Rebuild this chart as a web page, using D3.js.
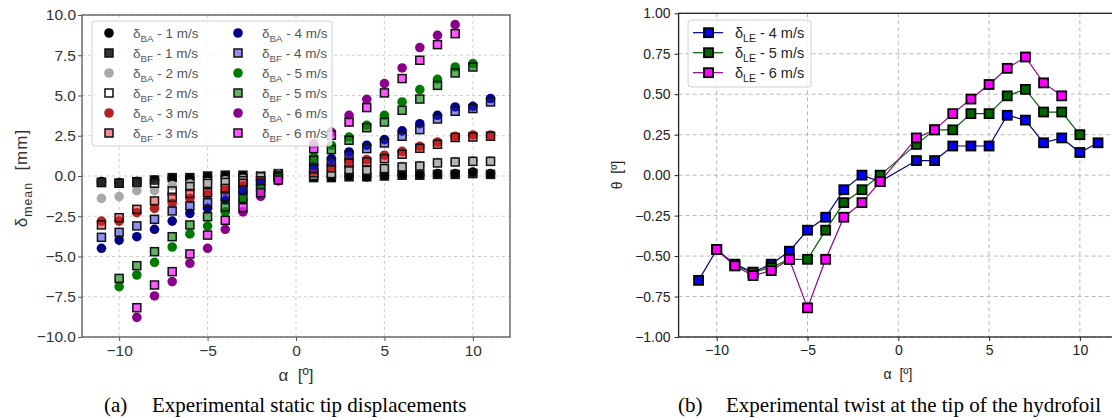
<!DOCTYPE html>
<html>
<head>
<meta charset="utf-8">
<script src="https://cdn.jsdelivr.net/npm/d3@7"></script>
<style>
  body { margin: 0; background: #fff; }
  svg { display: block; font-family: "Liberation Sans", Arial, sans-serif; }
  text { white-space: pre; }
</style>
</head>
<body>
<svg id="fig" width="1112" height="418"></svg>
<script>
// angle of attack [deg] used by both panels (no 0 deg run)
var alphaDeg = [-11, -10, -9, -8, -7, -6, -5, -4, -3, -2, -1, 1, 2, 3, 4, 5, 6, 7, 8, 9, 10, 11];

// (a) mean tip displacement [mm], BA = circles, BF = squares, null = no point
var ba1 = [-0.35, -0.41, -0.35, -0.25, -0.14, -0.14, -0.05, 0.0, 0.0, -0.05, 0.1, -0.06, -0.06, -0.02, -0.06, 0.04, 0.1, 0.1, 0.15, 0.15, 0.25, 0.15];
var bf1 = [-0.4, -0.45, -0.35, -0.25, -0.1, -0.1, 0.0, 0.05, 0.05, 0.0, 0.15, -0.1, -0.1, -0.05, -0.05, 0.0, 0.05, 0.05, 0.1, 0.1, 0.15, 0.1];
var ba2 = [-1.39, -1.28, -0.91, -0.91, -0.6, -0.5, -0.4, -0.3, -0.2, 0.0, 0.1, 0.05, 0.2, 0.45, 0.4, 0.5, 0.6, 0.65, 0.85, 0.9, 0.95, 0.95];
var bf2 = [-0.4, -0.45, -0.4, -0.45, -0.93, -0.66, -0.46, -0.4, -0.29, -0.05, 0.05, 0.04, 0.15, 0.4, 0.35, 0.46, 0.56, 0.62, 0.81, 0.87, 0.91, 0.91];
var ba3 = [-2.8, -2.8, -2.28, -2.01, -1.7, -1.39, -1.15, -0.91, -0.62, -0.35, 0.0, 0.3, 0.56, 0.98, 1.02, 1.29, 1.53, 1.84, 2.11, 2.47, 2.55, 2.55];
var bf3 = [-3.04, -2.59, -2.07, -1.55, -1.32, -1.08, -1.04, -0.77, -0.45, -0.3, 0.0, 0.2, 0.5, 0.81, 0.87, 1.08, 1.35, 1.72, 1.97, 2.39, 2.42, 2.47];
var ba4 = [-4.49, -3.98, -3.77, -3.31, -2.8, -2.32, -2.01, -1.51, -0.98, -0.5, -0.05, 0.66, 1.08, 1.49, 1.91, 2.26, 2.8, 3.25, 3.77, 4.29, 4.33, 4.81];
var bf4 = [-3.81, -3.5, -3.1, -2.69, -2.17, -1.86, -1.66, -1.26, -0.85, -0.45, -0.05, 0.46, 0.87, 1.3, 1.7, 2.05, 2.47, 2.88, 3.54, 4.02, 4.19, 4.6];
var ba5 = [null, -6.87, -6.15, -5.36, -4.41, -3.6, -3.11, -2.23, -1.5, -0.85, -0.1, 1.18, 1.91, 2.42, 3.15, 3.77, 4.6, 5.37, 6.0, 6.77, 6.98, null];
var bf5 = [null, -6.36, -5.57, -4.7, -3.77, -3.04, -2.53, -1.92, -1.39, -0.78, -0.1, 0.98, 1.64, 2.22, 3.0, 3.35, 4.08, 4.78, 5.63, 6.4, 6.77, null];
var ba6 = [null, null, -8.78, -7.45, -6.56, -5.42, -4.49, -3.31, -2.23, -1.26, -0.3, 2.01, 2.73, 3.77, 4.76, 5.74, 6.71, 7.98, 8.74, 9.4, null, null];
var bf6 = [null, null, -8.18, -6.77, -5.94, -4.84, -3.67, -2.75, -1.96, -1.04, -0.25, 1.7, 2.53, 3.35, 4.25, 5.16, 6.05, 7.19, 8.16, 8.84, null, null];

// (b) twist at the tip [deg]
var twist4 = [-0.65, -0.46, -0.55, -0.6, -0.55, -0.47, -0.34, -0.26, -0.09, 0.0, -0.04, 0.09, 0.09, 0.18, 0.18, 0.18, 0.37, 0.34, 0.2, 0.23, 0.14, 0.2];
var twist5 = [null, -0.46, -0.56, -0.6, -0.57, -0.52, -0.52, -0.34, -0.17, -0.09, 0.0, 0.19, 0.28, 0.28, 0.38, 0.38, 0.49, 0.53, 0.39, 0.39, 0.25, null];
var twist6 = [null, -0.46, -0.56, -0.62, -0.59, -0.52, -0.82, -0.52, -0.26, -0.17, -0.04, 0.23, 0.28, 0.38, 0.47, 0.56, 0.66, 0.73, 0.57, 0.49, null, null];

// tick values
var xTicks = [-10, -5, 0, 5, 10];
var yTicksA = [-10, -7.5, -5, -2.5, 0, 2.5, 5, 7.5, 10];
var yTicksB = [-1, -0.75, -0.5, -0.25, 0, 0.25, 0.5, 0.75, 1];

var svg = d3.select("#fig");

// series styles, in plotting order (BF squares drawn over BA circles)
var dispSeries = [
  {tag: "BA", speed: "1 m/s", vals: ba1, shape: "circle", fill: "#000000", op: 1},
  {tag: "BF", speed: "1 m/s", vals: bf1, shape: "square", fill: "#000000", op: 0.8},
  {tag: "BA", speed: "2 m/s", vals: ba2, shape: "circle", fill: "#a9a9a9", op: 1},
  {tag: "BF", speed: "2 m/s", vals: bf2, shape: "square", fill: "#ffffff", op: 0.15},
  {tag: "BA", speed: "3 m/s", vals: ba3, shape: "circle", fill: "#b22222", op: 1},
  {tag: "BF", speed: "3 m/s", vals: bf3, shape: "square", fill: "#e02020", op: 0.5},
  {tag: "BA", speed: "4 m/s", vals: ba4, shape: "circle", fill: "#00008b", op: 1},
  {tag: "BF", speed: "4 m/s", vals: bf4, shape: "square", fill: "#2020e0", op: 0.5},
  {tag: "BA", speed: "5 m/s", vals: ba5, shape: "circle", fill: "#007a00", op: 1},
  {tag: "BF", speed: "5 m/s", vals: bf5, shape: "square", fill: "#118811", op: 0.65},
  {tag: "BA", speed: "6 m/s", vals: ba6, shape: "circle", fill: "#8b008b", op: 1},
  {tag: "BF", speed: "6 m/s", vals: bf6, shape: "square", fill: "#ff22ff", op: 0.75}
];

var twistSeries = [
  {speed: "4 m/s", vals: twist4, line: "#00008b", fill: "#0000ff"},
  {speed: "5 m/s", vals: twist5, line: "#006400", fill: "#006400"},
  {speed: "6 m/s", vals: twist6, line: "#8b008b", fill: "#ff00ff"}
];

// draws one circle or square marker centred on (cx, cy)
function marker(g, s, cx, cy) {
  if (s.shape == "circle") {
    g.append("circle")
      .attr("cx", cx).attr("cy", cy).attr("r", 4.8)
      .attr("fill", s.fill).attr("fill-opacity", s.op);
  } else {
    g.append("rect")
      .attr("x", cx - 4).attr("y", cy - 4)
      .attr("width", 8).attr("height", 8)
      .attr("fill", s.fill).attr("fill-opacity", s.op)
      .attr("stroke", "#111").attr("stroke-width", 1.5);
  }
}

// "δ" + subscript + rest, as real text
function subText(t, main, sub, rest, size) {
  t.append("tspan").text(main);
  t.append("tspan").attr("font-size", size * 0.72).attr("dy", size * 0.3).text(sub);
  t.append("tspan").attr("dy", -size * 0.3).text(rest);
}

// dashed grid + axes with a full frame
function panel(x, y, yTicks, yFmt, opt) {
  var g = svg.append("g");
  var x0 = x.range()[0], x1 = x.range()[1], y0 = y.range()[1], y1 = y.range()[0];

  g.selectAll("line.vgrid").data(xTicks).enter().append("line")
    .attr("x1", d => x(d)).attr("x2", d => x(d))
    .attr("y1", y0).attr("y2", y1)
    .attr("stroke", opt.grid).attr("stroke-dasharray", opt.dash).attr("stroke-width", 1);
  g.selectAll("line.hgrid").data(yTicks).enter().append("line")
    .attr("x1", x0).attr("x2", x1)
    .attr("y1", d => y(d)).attr("y2", d => y(d))
    .attr("stroke", opt.grid).attr("stroke-dasharray", opt.dash).attr("stroke-width", 1);

  var ax = g.append("g").attr("transform", "translate(0," + y1 + ")")
    .call(d3.axisBottom(x).tickValues(xTicks).tickFormat(d3.format("d")).tickSize(4).tickPadding(opt.xpad));
  var ay = g.append("g").attr("transform", "translate(" + x0 + ",0)")
    .call(d3.axisLeft(y).tickValues(yTicks).tickFormat(d3.format(yFmt)).tickSize(4).tickPadding(opt.ypad));
  [ax, ay].forEach(function(a) {
    a.select(".domain").remove();
    a.selectAll(".tick line").attr("stroke", opt.frame);
    a.selectAll(".tick text").attr("fill", opt.txt).attr("font-size", opt.fs)
      .attr("font-family", "Liberation Sans, Arial, sans-serif");
  });

  g.append("rect")
    .attr("x", x0).attr("y", y0).attr("width", x1 - x0).attr("height", y1 - y0)
    .attr("fill", "none").attr("stroke", opt.frame).attr("stroke-width", 1.3);
  return g;
}

// ****************** (a) static tip displacements ******************
var xA = d3.scaleLinear().domain([-12.1, 12.1]).range([82, 510]);
var yA = d3.scaleLinear().domain([-10, 10]).range([337, 15]);

panel(xA, yA, yTicksA, ".1f", {grid: "#cfcfcf", dash: "3,3", frame: "#555", txt: "#333", fs: 15.5, xpad: 4, ypad: 2});

var ptsA = svg.append("g");
dispSeries.forEach(function(s) {
  s.vals.forEach(function(v, i) {
    if (v == null) return;
    marker(ptsA, s, xA(alphaDeg[i]), yA(v));
  });
});

// legend, two columns of six, drawn semi-opaque over the points
var legA = svg.append("g");
legA.append("rect")
  .attr("x", 92).attr("y", 21).attr("width", 240).attr("height", 125)
  .attr("rx", 3).attr("fill", "#fff").attr("fill-opacity", 0.8)
  .attr("stroke", "#d0d0d0");
dispSeries.forEach(function(s, i) {
  var col = i < 6 ? 0 : 1, row = i % 6;
  var mx = 109 + col * 129, my = 33 + row * 20;
  marker(legA, s, mx, my);
  var t = legA.append("text").attr("x", mx + 24).attr("y", my + 5)
    .attr("font-size", 13.5).attr("fill", "#555");
  subText(t, "δ", s.tag, " - " + s.speed, 13.5);
});

var yl = svg.append("text")
  .attr("transform", "translate(27,178) rotate(-90)")
  .attr("text-anchor", "middle").attr("font-size", 17).attr("fill", "#333")
  .attr("letter-spacing", 1);
subText(yl, "δ", "mean", "  [mm]", 17);

svg.append("text").attr("x", 296).attr("y", 381)
  .attr("text-anchor", "middle").attr("font-size", 17).attr("fill", "#333")
  .text("α  [º]");

// ****************** (b) twist at the tip ******************
var xB = d3.scaleLinear().domain([-12.1, 12.1]).range([678.6, 1118]);
var yB = d3.scaleLinear().domain([-1, 1]).range([337, 13.3]);

panel(xB, yB, yTicksB, ".2f", {grid: "#b8b8b8", dash: "4,3", frame: "#222", txt: "#222", fs: 14, xpad: 4, ypad: 4});

var lineB = d3.line()
  .defined(d => d[1] != null)
  .x(d => xB(d[0])).y(d => yB(d[1]));

twistSeries.forEach(function(s) {
  var pts = alphaDeg.map((a, i) => [a, s.vals[i]]);
  var g = svg.append("g");
  g.append("path").datum(pts)
    .attr("d", lineB).attr("fill", "none")
    .attr("stroke", s.line).attr("stroke-width", 1.2);
  g.selectAll("rect").data(pts.filter(d => d[1] != null)).enter().append("rect")
    .attr("x", d => xB(d[0]) - 4.5).attr("y", d => yB(d[1]) - 4.5)
    .attr("width", 9).attr("height", 9)
    .attr("fill", s.fill).attr("stroke", "#000").attr("stroke-width", 1.8);
});

var legB = svg.append("g");
legB.append("rect")
  .attr("x", 688).attr("y", 20).attr("width", 123).attr("height", 67)
  .attr("rx", 3).attr("fill", "#fff").attr("fill-opacity", 0.8)
  .attr("stroke", "#d0d0d0");
twistSeries.forEach(function(s, i) {
  var my = 32.7 + i * 20;
  legB.append("line").attr("x1", 693).attr("x2", 723).attr("y1", my).attr("y2", my)
    .attr("stroke", s.line).attr("stroke-width", 1.2);
  legB.append("rect").attr("x", 704).attr("y", my - 4.5).attr("width", 9).attr("height", 9)
    .attr("fill", s.fill).attr("stroke", "#000").attr("stroke-width", 1.8);
  var t = legB.append("text").attr("x", 735).attr("y", my + 5)
    .attr("font-size", 14.5).attr("fill", "#222");
  subText(t, "δ", "LE", " - " + s.speed, 14.5);
});

svg.append("text")
  .attr("transform", "translate(622,175) rotate(-90)")
  .attr("text-anchor", "middle").attr("font-size", 14).attr("fill", "#222")
  .text("θ  [º]");

svg.append("text").attr("x", 898).attr("y", 379)
  .attr("text-anchor", "middle").attr("font-size", 14).attr("fill", "#222")
  .text("α  [º]");

// ****************** captions ******************
var cap = svg.append("g").attr("font-family", "Liberation Serif, Times New Roman, serif")
  .attr("font-size", 21).attr("fill", "#000");
cap.append("text").attr("x", 104).attr("y", 412).text("(a)");
cap.append("text").attr("x", 152).attr("y", 412).text("Experimental static tip displacements");
cap.append("text").attr("x", 678).attr("y", 412).text("(b)");
cap.append("text").attr("x", 726).attr("y", 412).text("Experimental twist at the tip of the hydrofoil");
</script>
</body>
</html>
